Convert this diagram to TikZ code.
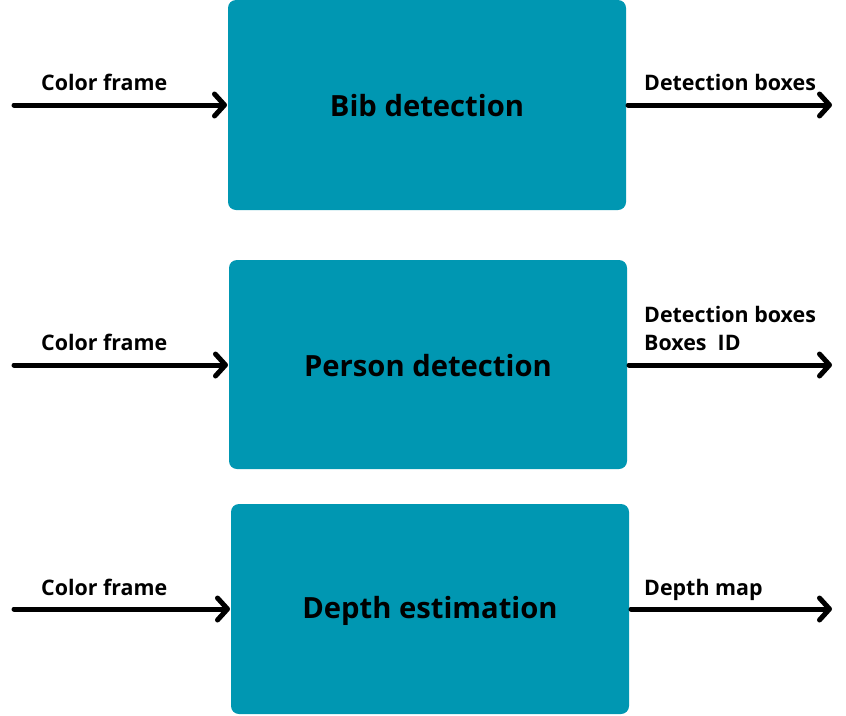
\documentclass[tikz,border=0pt]{standalone}
\usepackage{fontspec}
\setmainfont{Open Sans}[BoldFont={* Bold}]
\usetikzlibrary{arrows.meta}
\definecolor{teal1}{HTML}{0097B2}
\tikzset{
  block/.style={fill=teal1, rounded corners=8pt, inner sep=0pt},
  flow/.style={line width=5pt, line cap=round, -{Straight Barb[length=10pt,width=22pt,line width=5pt,round]}},
  lab/.style={anchor=base west, inner sep=0pt, font=\bfseries\fontsize{21.4}{28}\selectfont},
  title/.style={font=\bfseries\fontsize{29.2}{34}\selectfont, text=black}
}
\begin{document}
\begin{tikzpicture}[x=1pt,y=-1pt]
\useasboundingbox (0,0) rectangle (846,715);
% boxes
\fill[block] (228,0) rectangle (626,210);
\fill[block] (229,260) rectangle (627,469);
\fill[block] (231,504) rectangle (629,714);
\node[title] (b1) at (427,106) {Bib detection};
\node[title] (b2) at (428,365.5) {Person detection};
\node[title] (b3) at (430,611) {Depth estimation};
% endpoints
\coordinate (i1) at (14,105); \coordinate (e1) at (227,105);
\coordinate (s1) at (628,105); \coordinate (o1) at (832,105);
\coordinate (i2) at (14,365); \coordinate (e2) at (228,365);
\coordinate (s2) at (629,365); \coordinate (o2) at (832,365);
\coordinate (i3) at (14,609); \coordinate (e3) at (230,609);
\coordinate (s3) at (631,609); \coordinate (o3) at (832,609);
\draw[flow] (i1) -- (e1);
\draw[flow] (s1) -- (o1);
\draw[flow] (i2) -- (e2);
\draw[flow] (s2) -- (o2);
\draw[flow] (i3) -- (e3);
\draw[flow] (s3) -- (o3);
% labels
\node[lab] (l1) at (41,90) {Color frame};
\node[lab] (l2) at (41,350) {Color frame};
\node[lab] (l3) at (41,595) {Color frame};
\node[lab] (r1) at (644,90) {Detection boxes};
\node[lab] (r2a) at (644,322) {Detection boxes};
\node[lab] (r2b) at (644,350) {Boxes\ \ ID};
\node[lab] (r3) at (644,595) {Depth map};
\end{tikzpicture}
\end{document}
